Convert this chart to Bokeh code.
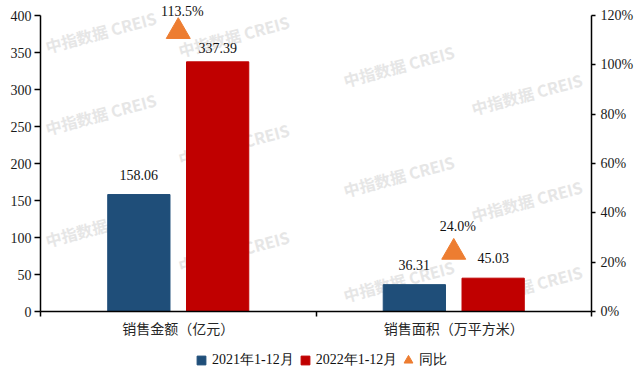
from bokeh.plotting import figure
from bokeh.layouts import column
from bokeh.models import (ColumnDataSource, Range1d, LinearAxis, FixedTicker,
                          PrintfTickFormatter, LabelSet, Label, Legend, LegendItem)
from bokeh.core.properties import value
from bokeh.transform import dodge
from bokeh.embed import file_html
from bokeh.resources import INLINE

# ---------------- data ----------------
categories = ["销售金额（亿元）", "销售面积（万平方米）"]
series_names = ["2021年1-12月", "2022年1-12月", "同比"]
values_2021 = [158.06, 36.31]
values_2022 = [337.39, 45.03]
yoy_pct = [113.5, 24.0]
left_ticks = [0, 50, 100, 150, 200, 250, 300, 350, 400]
right_ticks = [0, 20, 40, 60, 80, 100, 120]
watermark_text = "中指数据  CREIS"

# ---------------- styles ----------------
C_2021 = "#1F4E79"
C_2022 = "#C00000"
C_YOY = "#ED7D31"
SERIF = "Liberation Serif"
CJK = "Noto Sans CJK SC"
BAR_W = 0.226
BAR_OFF = 0.143
HEADROOM = 311 / 296  # frame reaches the top edge; axis lines stop at the last tick

cat_x = [i + 0.5 for i in range(len(categories))]

src = ColumnDataSource(dict(
    x=cat_x,
    v21=values_2021,
    v22=values_2022,
    yoy=yoy_pct,
    t21=[f"{v:.2f}" for v in values_2021],
    t22=[f"{v:.2f}" for v in values_2022],
    tyoy=[f"{v:.1f}%" for v in yoy_pct],
    o21=[20, 20],
    o22=[14, 20],
    oyoy=[20, 26],
))

p = figure(width=641, height=342, output_backend="svg", toolbar_location=None,
           x_range=Range1d(0, len(categories)),
           y_range=Range1d(left_ticks[0], left_ticks[-1] * HEADROOM),
           min_border_left=40, min_border_right=50, min_border_top=0, min_border_bottom=31)
p.extra_y_ranges = {"pct": Range1d(right_ticks[0], right_ticks[-1] * HEADROOM)}
p.outline_line_color = None
p.xgrid.visible = False
p.ygrid.visible = False
p.background_fill_color = "white"
p.border_fill_color = "white"

# watermarks (screen units, relative to frame bottom-left)
wm_pos = [(62, 280), (62, 198), (62, 86),
          (195, 276), (195, 168), (195, 61),
          (360, 246), (360, 136), (360, 31),
          (488, 218), (488, 111), (488, 26)]
for sx, sy in wm_pos:
    p.add_layout(Label(x=sx, y=sy, x_units="screen", y_units="screen", text=watermark_text,
                       text_font=CJK, text_font_size="16px", text_font_style="bold",
                       text_color="#e6e6e6", angle=15, angle_units="deg",
                       text_align="center", text_baseline="middle", level="underlay"))

p.vbar(x=dodge("x", -BAR_OFF, range=p.x_range), top="v21", width=BAR_W, source=src,
       fill_color=C_2021, line_color=C_2021)
p.vbar(x=dodge("x", BAR_OFF, range=p.x_range), top="v22", width=BAR_W, source=src,
       fill_color=C_2022, line_color=C_2022)
p.scatter(x="x", y="yoy", y_range_name="pct", source=src, marker="triangle", size=24,
          fill_color=C_YOY, line_color=C_YOY)

label_common = dict(text_font=value(SERIF), text_font_size="14px", text_color="#111111",
                    text_align="center", text_baseline="middle", source=src)
p.add_layout(LabelSet(x=dodge("x", -BAR_OFF, range=p.x_range), y="v21", text="t21",
                      y_offset="o21", **label_common))
p.add_layout(LabelSet(x=dodge("x", BAR_OFF, range=p.x_range), y="v22", text="t22",
                      y_offset="o22", **label_common))
p.add_layout(LabelSet(x="x", y="yoy", y_range_name="pct", text="tyoy", x_offset=4,
                      y_offset="oyoy", **label_common))

# left axis
ya = p.yaxis[0]
ya.ticker = FixedTicker(ticks=left_ticks, minor_ticks=[])
ya.bounds = (left_ticks[0], left_ticks[-1])
ya.major_tick_in = 0
ya.major_tick_out = 6
ya.axis_line_width = 1.5
ya.axis_line_color = "black"
ya.major_tick_line_color = "black"
ya.major_tick_line_width = 1.5
ya.major_label_text_font = SERIF
ya.major_label_text_font_size = "14px"
ya.major_label_text_color = "#1a1a1a"
ya.major_label_standoff = 3

# right axis
ra = LinearAxis(y_range_name="pct", ticker=FixedTicker(ticks=right_ticks, minor_ticks=[]),
                formatter=PrintfTickFormatter(format="%d%%"),
                bounds=(right_ticks[0], right_ticks[-1]))
ra.major_tick_in = 0
ra.major_tick_out = 4
ra.axis_line_width = 1.5
ra.axis_line_color = "black"
ra.major_tick_line_color = "black"
ra.major_tick_line_width = 1.5
ra.major_label_text_font = SERIF
ra.major_label_text_font_size = "14px"
ra.major_label_text_color = "#1a1a1a"
ra.major_label_standoff = 5
p.add_layout(ra, "right")

# bottom axis: labels at category centres, tick marks at boundaries
xa = p.xaxis[0]
xa.ticker = FixedTicker(ticks=cat_x, minor_ticks=list(range(len(categories) + 1)))
xa.major_label_overrides = {x: c for x, c in zip(cat_x, categories)}
xa.major_tick_line_color = None
xa.major_tick_in = 0
xa.major_tick_out = 0
xa.minor_tick_in = 0
xa.minor_tick_out = 5
xa.minor_tick_line_color = "black"
xa.minor_tick_line_width = 1.5
xa.axis_line_width = 1.5
xa.axis_line_color = "black"
xa.major_label_text_font = CJK
xa.major_label_text_font_size = "14px"
xa.major_label_text_color = "#262626"
xa.major_label_standoff = 1

# ---------------- legend strip ----------------
# swatch renderers reuse the chart data; the strip's ranges keep the points themselves off-view
lf = figure(width=641, height=34, output_backend="svg", toolbar_location=None,
            x_range=Range1d(-2, -1), y_range=Range1d(-2, -1),
            x_axis_type=None, y_axis_type=None, min_border=0)
lf.outline_line_color = None
lf.background_fill_color = "white"
lf.border_fill_color = "white"
sw21 = lf.scatter(x="x", y="v21", source=src, marker="square", fill_color=C_2021, line_color=C_2021)
sw22 = lf.scatter(x="x", y="v22", source=src, marker="square", fill_color=C_2022, line_color=C_2022)
swy = lf.scatter(x="x", y="yoy", source=src, marker="triangle", fill_color=C_YOY, line_color=C_YOY)
legend = Legend(items=[LegendItem(label=series_names[0], renderers=[sw21]),
                       LegendItem(label=series_names[1], renderers=[sw22]),
                       LegendItem(label=series_names[2], renderers=[swy])],
                orientation="horizontal", location=(150, 5),
                label_text_font=SERIF, label_text_font_size="14px", label_text_color="#111111",
                glyph_width=22, glyph_height=22, label_standoff=-3, spacing=0,
                padding=0, margin=0, border_line_color=None, background_fill_alpha=0)
lf.add_layout(legend, "center")

layout = column(p, lf, spacing=0)
open("out.html", "w").write(file_html(layout, INLINE))
